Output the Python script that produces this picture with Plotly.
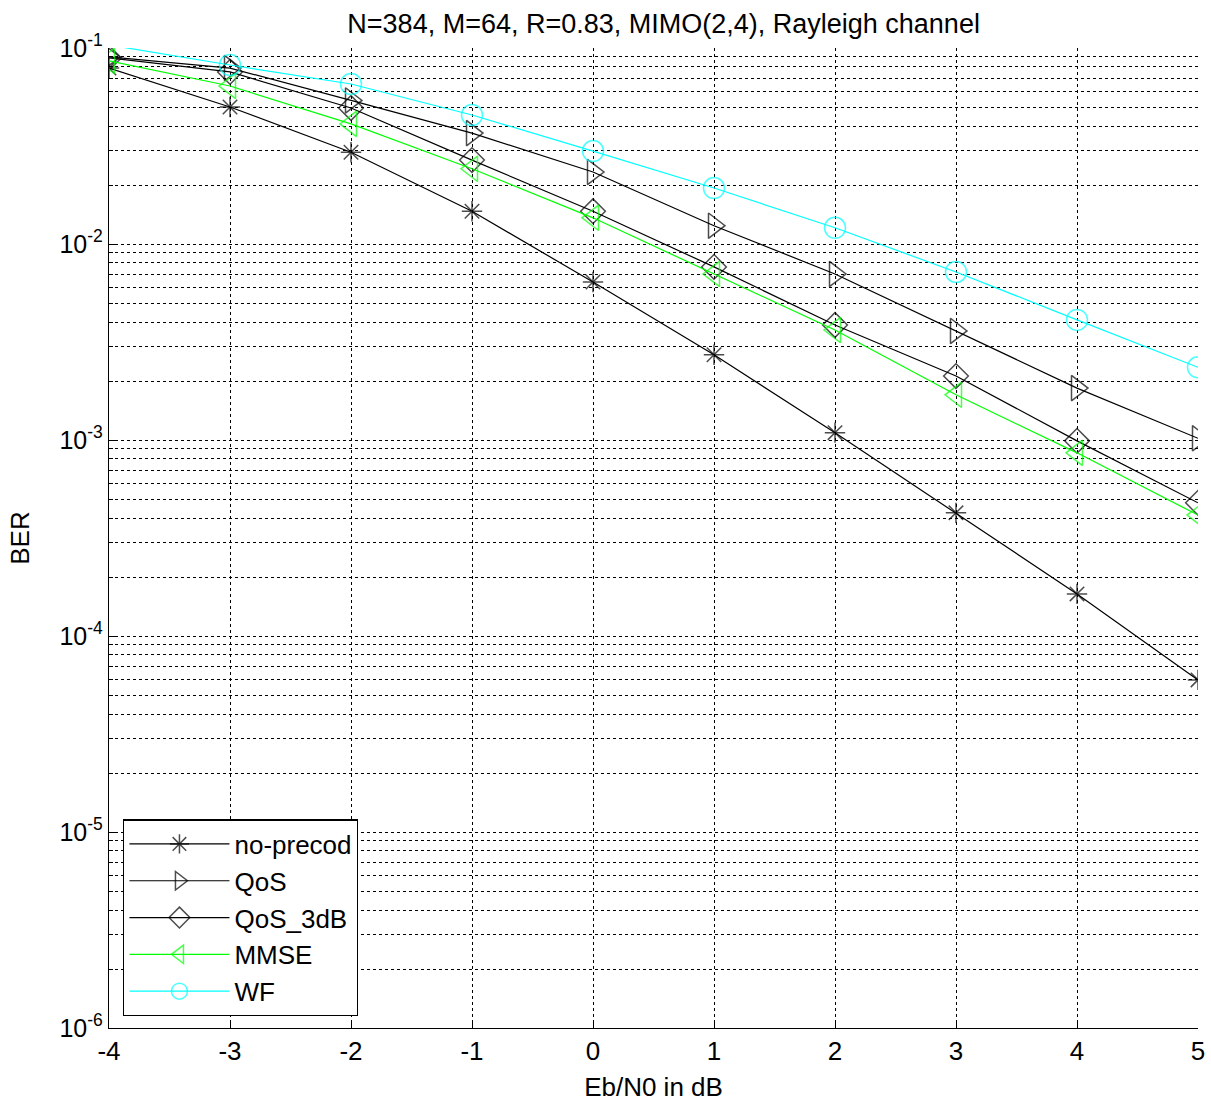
import plotly.graph_objects as go

ebn0 = [-4, -3, -2, -1, 0, 1, 2, 3, 4, 5]
ber_noprecod = [0.079, 0.050, 0.0294, 0.0147, 0.0064, 0.00272, 0.00109, 0.000425, 0.000164, 0.0000597]
ber_qos = [0.090, 0.079, 0.054, 0.0368, 0.0233, 0.0124, 0.00703, 0.0036, 0.00184, 0.00102]
ber_qos3db = [0.089, 0.0755, 0.0494, 0.0268, 0.0147, 0.00764, 0.00386, 0.00212, 0.00099, 0.000478]
ber_mmse = [0.086, 0.064, 0.041, 0.0242, 0.0136, 0.00703, 0.00364, 0.0017, 0.00086, 0.000414]
ber_wf = [0.1036, 0.0819, 0.0655, 0.0455, 0.0298, 0.0193, 0.0121, 0.0072, 0.0041, 0.00235]

series_names = ["no-precod", "QoS", "QoS_3dB", "MMSE", "WF"]
series_colors = ["black", "black", "black", "#00FF00", "#00FFFF"]
series_symbols = ["asterisk-open", "triangle-right-open", "diamond-open", "triangle-left-open", "circle-open"]
series_sizes = [17, 22, 19, 22, 21]
series_data = [ber_noprecod, ber_qos, ber_qos3db, ber_mmse, ber_wf]

major_vals = [1e-6, 1e-5, 1e-4, 1e-3, 1e-2, 1e-1]
major_text = ["10<sup>-6</sup>", "10<sup>-5</sup>", "10<sup>-4</sup>", "10<sup>-3</sup>", "10<sup>-2</sup>", "10<sup>-1</sup>"]
minor_vals = [m * d for d in [1e-6, 1e-5, 1e-4, 1e-3, 1e-2] for m in range(2, 10)]
y_top = 1e-1

fig = go.Figure()
for name, col, sym, sz, data in zip(series_names, series_colors, series_symbols, series_sizes, series_data):
    # like MATLAB, markers whose centre lies outside the axes are not drawn
    sizes = [0 if v > y_top * 1.001 else sz for v in data]
    fig.add_trace(go.Scatter(
        x=ebn0, y=data, name=name, mode="lines+markers",
        line=dict(color=col, width=1.2),
        marker=dict(symbol=sym, size=sizes, color=col, line=dict(color=col, width=1.5)),
    ))

font_family = "Liberation Sans, Arial, sans-serif"
fig.update_layout(
    width=1211, height=1102,
    margin=dict(l=109, r=13, t=48, b=74, autoexpand=False),
    paper_bgcolor="white", plot_bgcolor="white",
    font=dict(family=font_family, size=26, color="black"),
    title=dict(text="N=384, M=64, R=0.83, MIMO(2,4), Rayleigh channel",
               x=0.548, xanchor="center", y=0.979, yanchor="middle",
               font=dict(size=27, family=font_family, color="black")),
    legend=dict(x=0.013, y=0.012, xanchor="left", yanchor="bottom",
                bgcolor="white", bordercolor="black", borderwidth=1.3,
                font=dict(size=26, family=font_family), itemwidth=100,
                tracegroupgap=0),
    showlegend=True,
)
fig.update_xaxes(
    range=[-4, 5], tickvals=ebn0, ticktext=[str(v) for v in ebn0],
    showline=True, linecolor="black", linewidth=1.3, mirror=False,
    showgrid=True, gridcolor="black", griddash="dot", gridwidth=1,
    ticks="inside", ticklen=8, tickcolor="black",
    zeroline=False, ticklabeloverflow="allow", automargin=False,
    title=dict(text="Eb/N0 in dB", font=dict(size=26), standoff=12),
    tickfont=dict(size=26),
)
fig.update_yaxes(
    type="log", range=[-6, -1], tickvals=major_vals, ticktext=major_text,
    showline=True, linecolor="black", linewidth=1.3, mirror=False,
    showgrid=True, gridcolor="black", griddash="dot", gridwidth=1,
    ticks="inside", ticklen=8, tickcolor="black",
    minor=dict(tickvals=minor_vals, showgrid=True, gridcolor="black", griddash="dot",
               gridwidth=1, ticks="inside", ticklen=4, tickcolor="black"),
    zeroline=False, automargin=False,
    title=dict(text="BER", font=dict(size=26), standoff=22),
    tickfont=dict(size=25),
)
fig.write_html("out.html", config={"displayModeBar": False},
               post_script="document.body.style.margin='0';document.body.style.overflow='hidden';")
